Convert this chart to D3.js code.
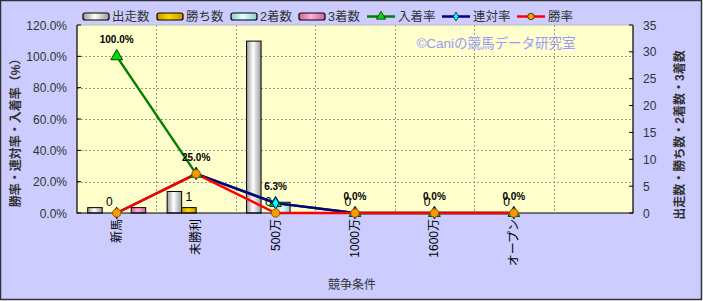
<!DOCTYPE html>
<html>
<head>
<meta charset="utf-8">
<script src="https://cdn.jsdelivr.net/npm/d3@7"></script>
<style>
  body { margin: 0; background: #fff; }
  svg text { font-family: "Liberation Sans", "Noto Sans CJK JP", sans-serif; }
</style>
</head>
<body>
<div id="chart"></div>
<script>
// カテゴリと系列データ
const categories = ["新馬", "未勝利", "500万", "1000万", "1600万", "オープン"];
const runs   = [1, 4, 32, 0, 0, 0];     // 出走数
const wins   = [0, 1, 0, 0, 0, 0];      // 勝ち数
const second = [0, 0, 2, 0, 0, 0];      // 2着数
const third  = [1, 0, 0, 0, 0, 0];      // 3着数
const placeRate = [1.0, 0.25, 0.063, 0, 0, 0];   // 入着率
const rentaiRate = [0, 0.25, 0.063, 0, 0, 0];    // 連対率
const winRate = [0, 0.25, 0, 0, 0, 0];           // 勝率
const leftTicks = [0, 0.2, 0.4, 0.6, 0.8, 1.0, 1.2];
const rightTicks = [0, 5, 10, 15, 20, 25, 30, 35];

const W = 703, H = 301;
const plot = { left: 77, right: 633, top: 25, bottom: 213 };

const svg = d3.select("#chart").append("svg")
    .attr("width", W)
    .attr("height", H);

// グラデーション定義
const defs = svg.append("defs");
const barStyles = [
    { name: "出走数", data: runs,   edge: "#9a9a9a", mid: "#ffffff" },
    { name: "勝ち数", data: wins,   edge: "#c89600", mid: "#ffd700" },
    { name: "2着数", data: second, edge: "#8ccccc", mid: "#e8ffff" },
    { name: "3着数", data: third,  edge: "#d0609a", mid: "#ffb0d8" }
];
barStyles.forEach((s, i) => {
    const g = defs.append("linearGradient").attr("id", "grad" + i)
        .attr("x1", "0%").attr("x2", "100%").attr("y1", "0%").attr("y2", "0%");
    g.append("stop").attr("offset", "0%").attr("stop-color", s.edge);
    g.append("stop").attr("offset", "45%").attr("stop-color", s.mid);
    g.append("stop").attr("offset", "100%").attr("stop-color", s.edge);
});

// 背景
svg.append("rect").attr("x", 0.5).attr("y", 0.5)
    .attr("width", W - 2).attr("height", H - 2)
    .attr("fill", "#ccccff").attr("stroke", "#333").attr("stroke-width", 1.5);
svg.append("rect").attr("x", plot.left).attr("y", plot.top)
    .attr("width", plot.right - plot.left).attr("height", plot.bottom - plot.top)
    .attr("fill", "#ffffcc");

// スケール
const x = d3.scaleBand().domain([...categories, ""]).range([plot.left, plot.right]);
const groupW = 58;
const x1 = d3.scaleBand().domain(barStyles.map(s => s.name))
    .range([(x.bandwidth() - groupW) / 2, (x.bandwidth() + groupW) / 2]);
const yL = d3.scaleLinear().domain([0, 1.2]).range([plot.bottom, plot.top]);
const yR = d3.scaleLinear().domain([0, 35]).range([plot.bottom, plot.top]);

// グリッド線
svg.append("g").selectAll("line")
    .data(leftTicks.slice(1, -1))
    .enter().append("line")
    .attr("x1", plot.left).attr("x2", plot.right)
    .attr("y1", d => Math.round(yL(d)) + 0.5).attr("y2", d => Math.round(yL(d)) + 0.5)
    .attr("stroke", "#999").attr("stroke-dasharray", "2,2");
svg.append("g").selectAll("line")
    .data(x.domain().slice(1))
    .enter().append("line")
    .attr("x1", d => Math.round(x(d)) + 0.5).attr("x2", d => Math.round(x(d)) + 0.5)
    .attr("y1", plot.top).attr("y2", plot.bottom)
    .attr("stroke", "#999").attr("stroke-dasharray", "2,2");

// 棒グラフ
barStyles.forEach((s, i) => {
    svg.append("g").selectAll("rect")
        .data(s.data.map((v, j) => ({ cat: categories[j], v })).filter(d => d.v > 0))
        .enter().append("rect")
        .attr("x", d => x(d.cat) + x1(s.name))
        .attr("y", d => yR(d.v))
        .attr("width", x1.bandwidth())
        .attr("height", d => yR(0) - yR(d.v))
        .attr("fill", `url(#grad${i})`)
        .attr("stroke", "#000").attr("stroke-width", 1);
});

// 勝ち数ラベル
svg.append("g").selectAll("text")
    .data(wins)
    .enter().append("text")
    .attr("x", (d, j) => x(categories[j]) + x1("勝ち数") + x1.bandwidth() / 2)
    .attr("y", d => yR(d) - 7)
    .attr("text-anchor", "middle")
    .attr("font-size", 12).attr("fill", "#000")
    .text(d => d);

// 軸線
svg.append("path")
    .attr("d", `M${plot.left},${plot.top}V${plot.bottom}H${plot.right}V${plot.top}`)
    .attr("fill", "none").attr("stroke", "#000").attr("stroke-width", 1.2);
svg.append("line").attr("x1", plot.left).attr("x2", plot.right)
    .attr("y1", plot.top).attr("y2", plot.top).attr("stroke", "#bbb");

// 左軸
const axL = svg.append("g");
axL.selectAll("line").data(leftTicks).enter().append("line")
    .attr("x1", plot.left).attr("x2", plot.left + 4)
    .attr("y1", d => yL(d)).attr("y2", d => yL(d)).attr("stroke", "#000");
axL.selectAll("text").data(leftTicks).enter().append("text")
    .attr("x", 67).attr("y", d => yL(d) + 4.5)
    .attr("text-anchor", "end").attr("font-size", 12).attr("fill", "#333")
    .text(d => d3.format(".1%")(d));

// 右軸
const axR = svg.append("g");
axR.selectAll("line").data(rightTicks).enter().append("line")
    .attr("x1", plot.right - 4).attr("x2", plot.right)
    .attr("y1", d => yR(d)).attr("y2", d => yR(d)).attr("stroke", "#000");
axR.selectAll("text").data(rightTicks).enter().append("text")
    .attr("x", 643).attr("y", d => yR(d) + 4.5)
    .attr("text-anchor", "start").attr("font-size", 12).attr("fill", "#333")
    .text(d => d);

// カテゴリラベル
svg.append("g").selectAll("text")
    .data(categories)
    .enter().append("text")
    .attr("transform", d => `translate(${x(d) + x.bandwidth() / 2 + 4},219) rotate(-90)`)
    .attr("text-anchor", "end").attr("font-size", 12).attr("fill", "#000")
    .text(d => d);

// 軸タイトル
svg.append("text").attr("x", 352).attr("y", 289)
    .attr("text-anchor", "middle").attr("font-size", 12).attr("fill", "#333")
    .text("競争条件");
svg.append("text")
    .attr("transform", "translate(20,130) rotate(-90)")
    .attr("text-anchor", "middle").attr("font-size", 12).attr("font-weight", "bold").attr("fill", "#333")
    .text("勝率・連対率・入着率（%）");
svg.append("text")
    .attr("transform", "translate(684,135) rotate(-90)")
    .attr("text-anchor", "middle").attr("font-size", 12).attr("font-weight", "bold").attr("fill", "#333")
    .text("出走数・勝ち数・2着数・3着数");

// 透かし
svg.append("text").attr("x", 496).attr("y", 48)
    .attr("text-anchor", "middle").attr("font-size", 13.5).attr("fill", "#9999ff")
    .text("©Caniの競馬データ研究室");

// 折れ線
const cx = (d, j) => x(categories[j]) + x.bandwidth() / 2;
const lineStyles = [
    { name: "入着率", data: placeRate,  color: "#008000", fill: "#00dd00", mark: d3.symbolTriangle, size: 60 },
    { name: "連対率", data: rentaiRate, color: "#000080", fill: "#00ffff", mark: d3.symbolDiamond, size: 40 },
    { name: "勝率",   data: winRate,    color: "#ff0000", fill: "#ff9900", mark: d3.symbolCircle, size: 55 }
];
lineStyles.forEach(s => {
    const line = d3.line().x(cx).y(d => yL(d));
    svg.append("path").datum(s.data)
        .attr("d", line)
        .attr("fill", "none").attr("stroke", s.color).attr("stroke-width", 2.5);
});
lineStyles.forEach(s => {
    svg.append("g").selectAll("path")
        .data(s.data)
        .enter().append("path")
        .attr("transform", (d, j) => `translate(${cx(d, j)},${yL(d)})`)
        .attr("d", d3.symbol().type(s.mark).size(s.size))
        .attr("fill", s.fill)
        .attr("stroke", s.name === "勝率" ? "#8a5a00" : s.name === "連対率" ? "#000080" : "#004000")
        .attr("stroke-width", 1);
});

// 入着率ラベル
svg.append("g").selectAll("text")
    .data(placeRate)
    .enter().append("text")
    .attr("x", (d, j) => cx(d, j) + (j === 2 ? 0 : 0))
    .attr("y", d => yL(d) - 13)
    .attr("text-anchor", "middle")
    .attr("font-size", 10).attr("font-weight", "bold").attr("fill", "#000")
    .text((d, j) => j === 0 || d > 0 || j > 2 ? d3.format(".1%")(d) : "");

// 凡例
const legend = svg.append("g");
const legX = [83, 157, 231, 299];
barStyles.forEach((s, i) => {
    legend.append("rect").attr("x", legX[i]).attr("y", 13)
        .attr("width", 26).attr("height", 7).attr("rx", 2)
        .attr("fill", `url(#grad${i})`).attr("stroke", "#000").attr("stroke-width", 1.2);
    legend.append("text").attr("x", legX[i] + 29).attr("y", 21)
        .attr("font-size", 12.5).attr("fill", "#333").text(s.name);
});
const legLX = [367, 442, 517];
lineStyles.forEach((s, i) => {
    legend.append("line").attr("x1", legLX[i]).attr("x2", legLX[i] + 28)
        .attr("y1", 16.5).attr("y2", 16.5)
        .attr("stroke", s.color).attr("stroke-width", 2.5);
    legend.append("path")
        .attr("transform", `translate(${legLX[i] + 14},16.5)`)
        .attr("d", d3.symbol().type(s.mark).size(s.size * 0.6))
        .attr("fill", s.fill).attr("stroke", "#222").attr("stroke-width", 0.8);
    legend.append("text").attr("x", legLX[i] + 31).attr("y", 21)
        .attr("font-size", 12.5).attr("fill", "#333").text(s.name);
});
</script>
</body>
</html>
